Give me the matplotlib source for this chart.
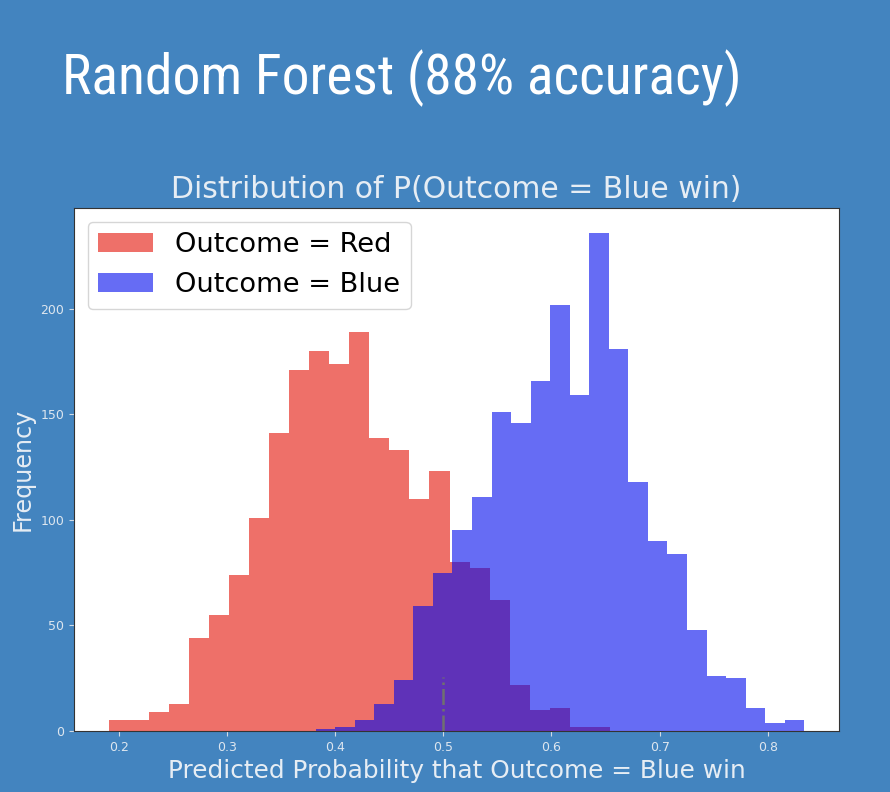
import numpy as np
import matplotlib
matplotlib.use("Agg")
import matplotlib.pyplot as plt
from matplotlib import font_manager

# counts (25 bins each)
red_lo, red_hi = 0.1908, 0.654
red_counts = [5, 5, 9, 13, 44, 55, 74, 101, 141, 171, 180, 174, 189,
              139, 133, 110, 123, 80, 77, 62, 22, 10, 11, 2, 2]
blue_lo, blue_hi = 0.382, 0.8336
blue_counts = [1, 2, 5, 13, 24, 59, 75, 95, 111, 151, 146, 166, 202,
               159, 236, 181, 118, 90, 84, 48, 26, 25, 11, 4, 5]
threshold = 0.5
threshold_height = 25.5

bg = '#4384bf'
light = '#e6edf4'

red_edges = np.linspace(red_lo, red_hi, len(red_counts) + 1)
blue_edges = np.linspace(blue_lo, blue_hi, len(blue_counts) + 1)
red_mid = (red_edges[:-1] + red_edges[1:]) / 2
blue_mid = (blue_edges[:-1] + blue_edges[1:]) / 2

# pick a narrow face for the slide heading if one is installed
names = {f.name for f in font_manager.fontManager.ttflist}
narrow = [n for n in ['Roboto Condensed', 'Liberation Sans Narrow', 'Open Sans Condensed',
                      'DejaVu Sans Condensed'] if n in names]
print(sorted(names))

fig = plt.figure(figsize=(8.9, 7.92), dpi=100, facecolor=bg)
ax = fig.add_axes([0.0831, 0.077, 0.8596, 0.6604])

ax.hist(red_mid, bins=red_edges, weights=red_counts, color='#e31105', alpha=0.6, label='Outcome = Red')
ax.hist(blue_mid, bins=blue_edges, weights=blue_counts, color='#000aee', alpha=0.6, label='Outcome = Blue')
ax.plot([threshold, threshold], [0, threshold_height], '-.', color='#707070', lw=1.8)

ax.set_title('Distribution of P(Outcome = Blue win)', fontsize=21.5, color=light, pad=7)
ax.set_xlabel('Predicted Probability that Outcome = Blue win', fontsize=17.8, color=light)
ax.set_ylabel('Frequency', fontsize=17.2, color=light)
ax.tick_params(colors='#d0dbe6', labelsize=9, labelcolor='#dde6ef')
for s in ax.spines.values():
    s.set_color('#333333')

ax.legend(loc='upper left', fontsize=19.6)

t = fig.text(62 / 890, 1 - 94 / 792, 'Random Forest (88% accuracy)', fontsize=42,
             color='white', va='baseline', family=narrow + ['DejaVu Sans'],
             fontstretch='condensed')
# shrink the heading so it spans the same width as in the slide
fig.canvas.draw()
w = t.get_window_extent().width
if w > 680:
    t.set_fontsize(42 * 680 / w)

fig.savefig('out.png', facecolor=bg)
